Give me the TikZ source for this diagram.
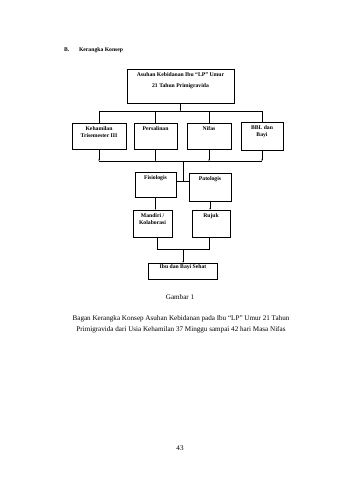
\documentclass[tikz,border=0pt]{standalone}
\usepackage{fontspec}
\setmainfont{Liberation Serif}
\usetikzlibrary{arrows.meta}

\tikzset{
    kotak/.style={draw, line width=0.7pt, inner sep=0pt},
    isi/.style={font=\fontsize{10}{12}\selectfont\bfseries, align=center, below, inner sep=0pt, yshift=-2.2mm},
    garis/.style={line width=0.9pt},
    panah/.style={line width=0.9pt, -{Latex[length=2.5pt,width=2.5pt]}},
    teks/.style={font=\fontsize{12.5}{15}\selectfont},
}

\begin{document}
\begin{tikzpicture}[x=0.6176mm, y=-0.6176mm]
    \useasboundingbox[fill=white] (0,0) rectangle (340,480);
    % Heading
    \node[anchor=west, font=\bfseries] (hB) at (62,50) {B.};
    \node[anchor=west, font=\bfseries] (hjudul) at (77,50) {Kerangka Konsep};

    % Top box
    \node[kotak, minimum width=107*0.6176mm, minimum height=34*0.6176mm] (asuhan) at (180.5,86) {};
    \node[isi, font=\fontsize{10}{19}\selectfont\bfseries] (asuhan-t) at (asuhan.north) {Asuhan Kebidanan Ibu ``LP'' Umur\\21 Tahun Primigravida};

    % Second row
    \node[kotak, minimum width=54*0.6176mm, minimum height=26*0.6176mm] (hamil) at (99,136) {};
    \node[isi] (hamil-t) at (hamil.north) {Kehamilan\\Trisemester III};
    \node[kotak, minimum width=43*0.6176mm, minimum height=26*0.6176mm] (salin) at (155.5,136) {};
    \node[isi] (salin-t) at (salin.north) {Persalinan};
    \node[kotak, minimum width=44*0.6176mm, minimum height=26*0.6176mm] (nifas) at (209,136) {};
    \node[isi] (nifas-t) at (nifas.north) {Nifas};
    \node[kotak, minimum width=42*0.6176mm, minimum height=28*0.6176mm] (bbl) at (262,136) {};
    \node[isi] (bbl-t) at (bbl.north) {BBL dan\\Bayi};

    % Fork from top box
    \coordinate (kiri1) at (hamil.north |- 0,111);
    \coordinate (kanan1) at (bbl.north |- 0,111);
    \draw[panah] (asuhan.south) -- (asuhan.south |- kiri1);
    \draw[garis] (kiri1) -- (kanan1);
    \draw[garis] (kiri1) -- (hamil.north);
    \draw[garis] (salin.north |- kiri1) -- (salin.north);
    \draw[garis] (nifas.north |- kiri1) -- (nifas.north);
    \draw[garis] (kanan1) -- (bbl.north);

    % Join below second row
    \coordinate (kiri2) at (hamil.south |- 0,161);
    \coordinate (kanan2) at (bbl.south |- 0,161);
    \coordinate (tengah2) at (183,161);
    \foreach \b in {hamil,salin,nifas,bbl}
        \draw[panah] (\b.south) -- (\b.south |- kiri2);
    \draw[garis] (kiri2) -- (kanan2);

    % Third row
    \node[kotak, minimum width=41*0.6176mm, minimum height=25*0.6176mm] (fisio) at (155.5,184.5) {};
    \node[isi] (fisio-t) at (fisio.north) {Fisiologis};
    \node[kotak, minimum width=42*0.6176mm, minimum height=28*0.6176mm] (pato) at (210,187) {};
    \node[isi] (pato-t) at (pato.north) {Patologis};
    \draw[garis] (tengah2) -- (tengah2 |- 0,181);
    \draw[garis] (fisio.east |- 0,181) -- (pato.west |- 0,181);

    % Fourth row
    \node[kotak, minimum width=39*0.6176mm, minimum height=27*0.6176mm] (mandiri) at (152.5,223.5) {};
    \node[isi] (mandiri-t) at (mandiri.north) {Mandiri /\\Kolaborasi};
    \node[kotak, minimum width=38*0.6176mm, minimum height=27*0.6176mm] (rujuk) at (211,223.5) {};
    \node[isi] (rujuk-t) at (rujuk.north) {Rujuk};
    \draw[panah] (fisio.south) -- (fisio.south |- mandiri.north);
    \draw[panah] (pato.south) -- (pato.south |- rujuk.north);

    % Last box
    \node[kotak, minimum width=69*0.6176mm, minimum height=16*0.6176mm] (sehat) at (183,271) {};
    \node[isi, yshift=1.0mm] (sehat-t) at (sehat.north) {Ibu dan Bayi Sehat};
    \coordinate (kiri3) at (157,249);
    \coordinate (kanan3) at (209,249);
    \draw[garis] (mandiri.south -| kiri3) -- (kiri3) -- (kanan3) -- (rujuk.south -| kanan3);
    \draw[panah] (sehat.north |- kiri3) -- (sehat.north);

    % Caption
    \node[teks] (gambar) at (180,297) {Gambar 1};
    \node[teks] (bagan1) at (181,319) {Bagan Kerangka Konsep Asuhan Kebidanan pada Ibu ``LP'' Umur 21 Tahun};
    \node[teks] (bagan2) at (181,329.5) {Primigravida dari Usia Kehamilan 37 Minggu sampai 42 hari Masa Nifas};

    % Page number
    \node[teks] (halaman) at (180,448) {43};
\end{tikzpicture}
\end{document}
